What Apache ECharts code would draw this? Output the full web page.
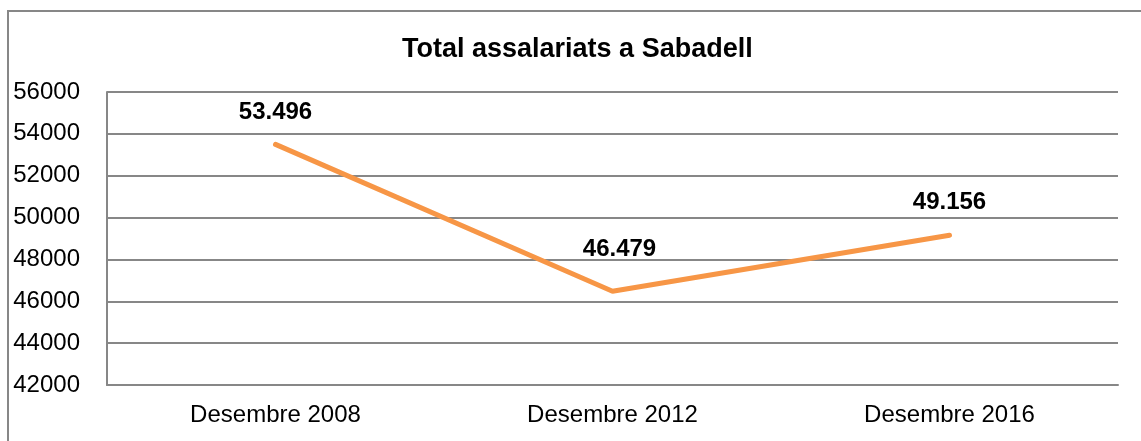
<!DOCTYPE html>
<html>
<head>
<meta charset="utf-8">
<script src="https://cdn.jsdelivr.net/npm/echarts@6/dist/echarts.min.js"></script>
<style>
  html, body { margin: 0; padding: 0; background: #fff; }
  #chart { width: 1141px; height: 441px; }
</style>
</head>
<body>
<div id="chart"></div>
<script>
// dades
var categories = ['Desembre 2008', 'Desembre 2012', 'Desembre 2016'];
var assalariats = [53496, 46479, 49156];
// posició de les etiquetes (com a l'Excel, cadascuna una mica diferent)
var labelDistance = [20, 29, 20];
var labelOffsetX = [0, 7, 0];

var chart = echarts.init(document.getElementById('chart'));

function puntMilers(v) {
    return String(v).replace(/\B(?=(\d{3})+(?!\d))/g, '.');
}

var serieData = assalariats.map(function (v, i) {
    return {
        value: v,
        label: { distance: labelDistance[i], offset: [labelOffsetX[i], 0] }
    };
});

chart.setOption({
    animation: false,
    textStyle: { fontFamily: 'Liberation Sans' },
    title: {
        text: 'Total assalariats a Sabadell',
        left: 397,
        top: 31,
        textStyle: { fontSize: 27, fontWeight: 'bold', color: '#000', fontFamily: 'Liberation Sans' }
    },
    graphic: [{
        type: 'rect',
        shape: { x: 8, y: 11, width: 1300, height: 600 },
        style: { fill: 'none', stroke: '#878787', lineWidth: 2 },
        silent: true
    }],
    grid: { left: 107, right: 23, top: 92, bottom: 56 },
    xAxis: {
        type: 'category',
        data: categories,
        boundaryGap: true,
        axisTick: { show: false },
        axisLine: { lineStyle: { color: '#878787', width: 2 } },
        axisLabel: { color: '#000', fontSize: 24, margin: 18 }
    },
    yAxis: {
        type: 'value',
        min: 42000,
        max: 56000,
        interval: 2000,
        axisLine: { show: true, lineStyle: { color: '#878787', width: 2 } },
        axisTick: { show: false },
        splitLine: { lineStyle: { color: '#878787', width: 2 } },
        axisLabel: {
            color: '#000', fontSize: 24, margin: 27,
            formatter: function (v) { return String(v); }
        }
    },
    series: [{
        type: 'line',
        data: serieData,
        symbol: 'circle',
        symbolSize: 1,
        showSymbol: true,
        itemStyle: { color: '#F79646' },
        lineStyle: { color: '#F79646', width: 5, cap: 'round' },
        label: {
            show: true,
            position: 'top',
            color: '#000',
            fontSize: 24,
            fontWeight: 'bold',
            formatter: function (p) { return puntMilers(p.value); }
        }
    }]
});
</script>
</body>
</html>
